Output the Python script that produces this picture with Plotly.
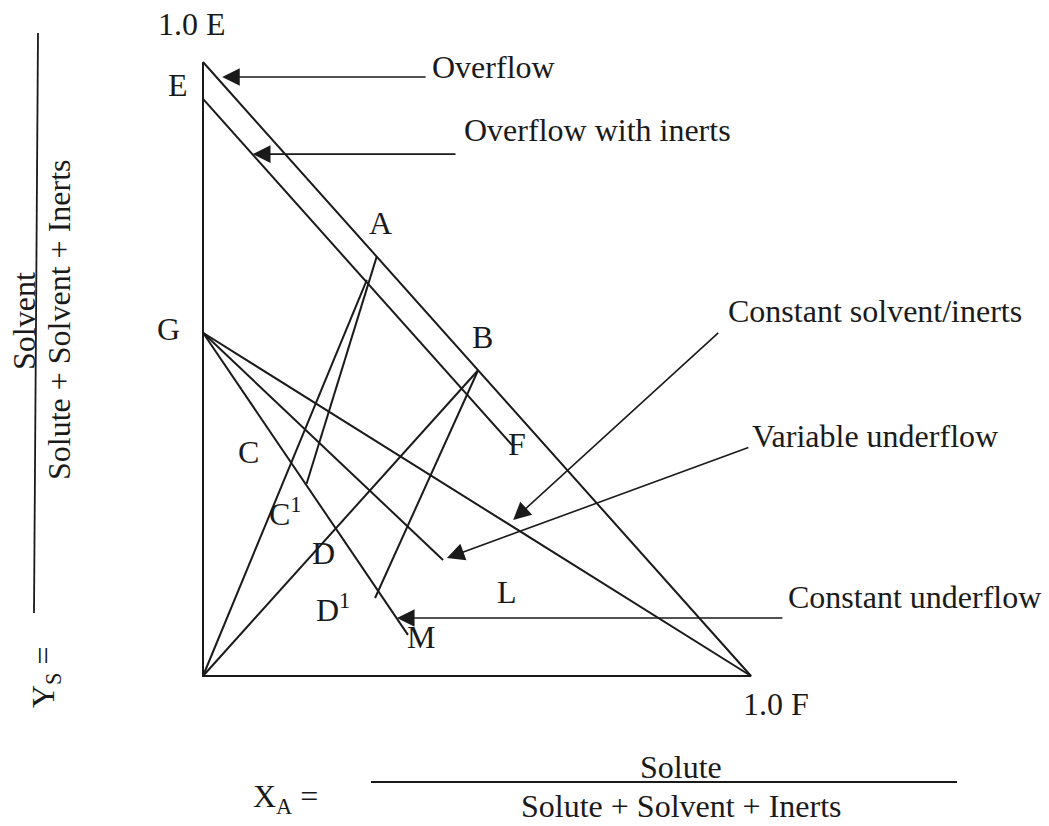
import plotly.graph_objects as go

# ---------------- diagram data (x = solute fraction X_A, y = solvent fraction Y_S) -------------
# triangle: E (pure solvent) -> origin (pure inerts) -> F (pure solute) -> E
triangle_x = [0.0, 0.0, 1.0, 0.0]
triangle_y = [1.0, 0.0, 0.0, 1.0]

# straight segments of the construction
segment_names = ["overflow with inerts", "O-A", "A-C1", "O-B", "B-D1",
                 "constant underflow G-M", "variable underflow G-L", "constant solvent/inerts G-F"]
segment_x0 = [0.000, 0.000, 0.317, 0.000, 0.502, 0.000, 0.000, 0.000]
segment_y0 = [0.940, 0.000, 0.683, 0.000, 0.498, 0.559, 0.559, 0.559]
segment_x1 = [0.564, 0.299, 0.189, 0.502, 0.314, 0.374, 0.438, 1.000]
segment_y1 = [0.376, 0.645, 0.313, 0.498, 0.127, 0.067, 0.189, 0.000]

# callout arrows: tail -> tip (data coordinates)
arrow_names = ["Overflow", "Overflow with inerts", "Constant solvent/inerts",
               "Variable underflow", "Constant underflow"]
arrow_tail_x = [0.409, 0.4635, 0.943, 0.998, 1.060]
arrow_tail_y = [0.9756, 0.850, 0.561, 0.373, 0.0945]
arrow_tip_x = [0.035, 0.091, 0.566, 0.445, 0.354]
arrow_tip_y = [0.9756, 0.850, 0.254, 0.192, 0.0945]

# text labels and their pixel positions in the 1049x826 picture
label_texts = ["1.0 E", "E", "A", "B", "G", "C", "C<sup>1</sup>", "D", "D<sup>1</sup>",
               "M", "L", "F", "1.0 F"]
label_px = [192, 178, 380, 482, 168, 248, 285, 323, 333, 421, 507, 517, 776]
label_py = [24, 85, 223, 337, 329, 452, 512, 553, 608, 637, 592, 444, 704]

callout_texts = ["Overflow", "Overflow with inerts", "Constant solvent/inerts",
                 "Variable underflow", "Constant underflow"]
callout_px = [430, 462, 726, 750, 786]
callout_py = [67, 130, 311, 436, 597]

# ---------------- pixel <-> data mapping ----------------
W, H = 1049, 826
X0_PX, X1_PX = 203, 751
Y0_PX, Y1_PX = 676, 62
sx = X1_PX - X0_PX
sy = Y0_PX - Y1_PX


def px_to_x(px):
    return (px - X0_PX) / sx


def py_to_y(py):
    return (Y0_PX - py) / sy


x_range = [px_to_x(0), px_to_x(W)]
y_range = [py_to_y(H), py_to_y(0)]

INK = "#1a1a1a"
FONT = dict(family="Liberation Serif, Times New Roman, serif", size=32, color=INK)
LW = 2

fig = go.Figure()

fig.add_trace(go.Scatter(x=triangle_x, y=triangle_y, mode="lines",
                         line=dict(color=INK, width=LW), hoverinfo="skip", showlegend=False))

for name, x0, y0, x1, y1 in zip(segment_names, segment_x0, segment_y0, segment_x1, segment_y1):
    fig.add_trace(go.Scatter(x=[x0, x1], y=[y0, y1], mode="lines", name=name,
                             line=dict(color=INK, width=LW), hoverinfo="skip", showlegend=False))

annotations = []
for tx, ty, hx, hy in zip(arrow_tail_x, arrow_tail_y, arrow_tip_x, arrow_tip_y):
    annotations.append(dict(x=hx, y=hy, ax=tx, ay=ty, xref="x", yref="y", axref="x", ayref="y",
                            text="", showarrow=True, arrowhead=2, arrowsize=2.2, arrowwidth=1.6,
                            arrowcolor=INK, standoff=0, startstandoff=0))

for t, px, py in zip(label_texts, label_px, label_py):
    annotations.append(dict(x=px_to_x(px), y=py_to_y(py), xref="x", yref="y", text=t,
                            showarrow=False, xanchor="center", yanchor="middle", font=FONT))

for t, px, py in zip(callout_texts, callout_px, callout_py):
    annotations.append(dict(x=px_to_x(px), y=py_to_y(py), xref="x", yref="y", text=t,
                            showarrow=False, xanchor="left", yanchor="middle", font=FONT))

# x axis title as a fraction
annotations += [
    dict(x=285 / W, y=1 - 798 / H, xref="paper", yref="paper", text="X<sub>A</sub> =",
         showarrow=False, xanchor="center", yanchor="middle", font=FONT),
    dict(x=681 / W, y=1 - 767 / H, xref="paper", yref="paper", text="Solute",
         showarrow=False, xanchor="center", yanchor="middle", font=FONT),
    dict(x=681 / W, y=1 - 806 / H, xref="paper", yref="paper", text="Solute + Solvent + Inerts",
         showarrow=False, xanchor="center", yanchor="middle", font=FONT),
    # y axis title as a rotated fraction
    dict(x=24 / W, y=1 - 321 / H, xref="paper", yref="paper", text="Solvent", textangle=-90,
         showarrow=False, xanchor="center", yanchor="middle", font=FONT),
    dict(x=59 / W, y=1 - 320 / H, xref="paper", yref="paper", text="Solute + Solvent + Inerts",
         textangle=-90, showarrow=False, xanchor="center", yanchor="middle", font=FONT),
    dict(x=45 / W, y=1 - 677 / H, xref="paper", yref="paper", text="Y<sub>S</sub> =",
         textangle=-90, showarrow=False, xanchor="center", yanchor="middle", font=FONT),
]

shapes = [
    dict(type="line", xref="paper", yref="paper", x0=371 / W, x1=957 / W,
         y0=1 - 782 / H, y1=1 - 782 / H, line=dict(color=INK, width=1.8)),
    dict(type="line", xref="paper", yref="paper", x0=38 / W, x1=34 / W,
         y0=1 - 33 / H, y1=1 - 613 / H, line=dict(color=INK, width=1.8)),
]

fig.update_layout(
    width=W, height=H, autosize=False,
    margin=dict(l=0, r=0, t=0, b=0, pad=0),
    paper_bgcolor="white", plot_bgcolor="white",
    xaxis=dict(range=x_range, visible=False, showgrid=False, zeroline=False, fixedrange=True),
    yaxis=dict(range=y_range, visible=False, showgrid=False, zeroline=False, fixedrange=True),
    annotations=annotations, shapes=shapes, showlegend=False,
)

fig.write_html("out.html", config={"displayModeBar": False},
               post_script="document.body.style.margin='0';document.body.style.overflow='hidden';")
